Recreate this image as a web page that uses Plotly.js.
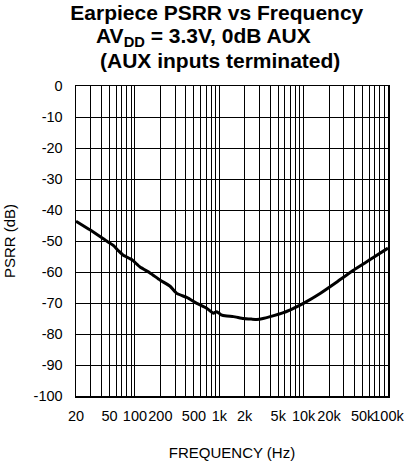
<!DOCTYPE html>
<html>
<head>
<meta charset="utf-8">
<script src="https://cdn.plot.ly/plotly-3.0.1.min.js"></script>
<style>html,body{margin:0;padding:0;background:#fff}#chart{width:409px;height:466px}</style>
</head>
<body>
<div id="chart"></div>
<script>
// Frequency (Hz) and PSRR (dB)
var freqHz = [20, 29.3, 42.2, 55.4, 64, 72.8, 91.6, 115, 151, 198, 261, 313, 411, 541, 710, 851, 933, 1050, 1227, 1470, 1930, 2400, 2786, 3300, 4000, 5755, 7570, 9935, 15670, 24770, 38930, 61460, 100000];
var psrrDb = [-43.6, -46.4, -49.3, -51.4, -53.2, -54.6, -56.0, -58.4, -60.3, -62.6, -64.6, -66.9, -68.2, -70.1, -71.7, -73.3, -72.8, -73.8, -74.2, -74.4, -75.0, -75.2, -75.3, -75.0, -74.4, -73.1, -71.7, -70.1, -66.9, -63.2, -59.4, -56.0, -52.3];

// Axis ticks
var xLabelVals = [20, 50, 100, 200, 500, 1000, 2000, 5000, 10000, 20000, 50000, 100000];
var xLabelText = ["20", "50", "100", "200", "500", "1k", "2k", "5k", "10k", "20k", "50k", "100k"];
var yTickVals = [0, -10, -20, -30, -40, -50, -60, -70, -80, -90, -100];
var yTickText = ["0", "-10", "-20", "-30", "-40", "-50", "-60", "-70", "-80", "-90", "-100"];

// Title lines
var titleLines = ["Earpiece PSRR vs Frequency", "AV<sub>DD</sub> = 3.3V, 0dB AUX", "(AUX inputs terminated)"];

// Minor log grid: every 1..9 multiple per decade from 20 Hz to 100 kHz (unlabelled ones)
var minorGrid = [];
for (var d = 10; d <= 100000; d *= 10) {
  for (var m = 1; m <= 9; m++) {
    var v = m * d;
    if (v < 20 || v > 100000) continue;
    if (xLabelVals.indexOf(v) < 0) minorGrid.push(v);
  }
}

var FONT = "Liberation Sans, Arial, sans-serif";
var TFONT = {family: FONT, size: 21, weight: 700, color: "#000"};

var trace = {
  x: freqHz, y: psrrDb, type: "scatter", mode: "lines",
  line: {color: "#000", width: 3, shape: "spline", smoothing: 0.4},
  hoverinfo: "skip"
};

var layout = {
  width: 409, height: 466,
  margin: {l: 76, r: 21, t: 85.5, b: 70, pad: 0},
  paper_bgcolor: "#fff", plot_bgcolor: "#fff",
  showlegend: false,
  font: {family: FONT, color: "#000", size: 14.5},
  title: {
    text: titleLines[0],
    font: TFONT,
    x: 0.53, xref: "container", xanchor: "center",
    y: 1 - 13 / 466, yref: "container", yanchor: "middle"
  },
  annotations: [
    {text: titleLines[1], xref: "paper", yref: "paper", x: 0.409, y: (396 - 36) / 310.5,
     xanchor: "center", yanchor: "middle", showarrow: false, font: TFONT},
    {text: titleLines[2], xref: "paper", yref: "paper", x: 0.46, y: (396 - 60) / 310.5,
     xanchor: "center", yanchor: "middle", showarrow: false, font: TFONT}
  ],
  xaxis: {
    type: "log",
    range: [Math.log10(20), Math.log10(100000)],
    tickmode: "array", tickvals: xLabelVals, ticktext: xLabelText, tickangle: 0,
    showgrid: true, gridcolor: "#000", gridwidth: 1,
    minor: {tickmode: "array", tickvals: minorGrid, showgrid: true, gridcolor: "#000", gridwidth: 1, ticks: ""},
    showline: true, linecolor: "#000", linewidth: 1.5, mirror: true,
    ticks: "", zeroline: false,
    tickfont: {family: FONT, size: 14.5, color: "#000"},
    ticklabelstandoff: 6,
    title: {text: "FREQUENCY (Hz)", font: {family: FONT, size: 15, color: "#000"}, standoff: 24}
  },
  yaxis: {
    range: [-100, 0],
    tickmode: "array", tickvals: yTickVals, ticktext: yTickText,
    showgrid: true, gridcolor: "#000", gridwidth: 1,
    showline: true, linecolor: "#000", linewidth: 1.5, mirror: true,
    ticks: "", zeroline: false,
    tickfont: {family: FONT, size: 14.5, color: "#000"},
    ticklabelstandoff: 9,
    title: {text: "PSRR (dB)", font: {family: FONT, size: 15, color: "#000"}, standoff: 14}
  }
};

Plotly.newPlot("chart", [trace], layout, {staticPlot: true, displayModeBar: false});
</script>
</body>
</html>
